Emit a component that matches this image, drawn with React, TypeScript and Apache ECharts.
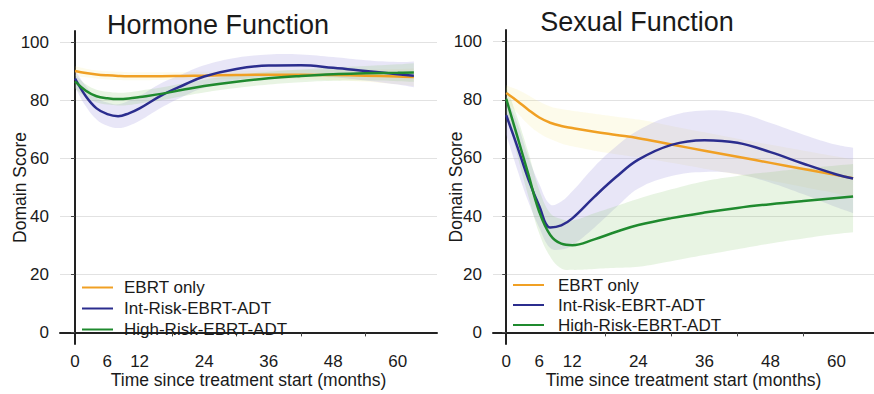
import React, { useEffect, useRef } from "react";
import * as echarts from "echarts";

// ---- data ----
const MONTHS = [0, 2, 4, 6, 8, 10, 12, 16, 20, 24, 30, 36, 42, 48, 54, 60, 63];
const SERIES_NAMES = ["EBRT only", "Int-Risk-EBRT-ADT", "High-Risk-EBRT-ADT"];
const X_LABELS = [0, 6, 12, 24, 36, 48, 60];
const X_TICKS = [18, 30, 42, 54];
const Y_LABELS = [0, 20, 40, 60, 80, 100];

// Hormone Function
const H_EBRT = [90.2, 89.5, 89.0, 88.7, 88.5, 88.4, 88.4, 88.4, 88.5, 88.6, 88.8, 88.9, 88.9, 88.8, 88.6, 88.3, 88.1];
const H_EBRT_LO = [88.5, 88.0, 87.6, 87.3, 87.1, 87.0, 87.0, 87.1, 87.2, 87.3, 87.4, 87.4, 87.3, 87.0, 86.5, 85.6, 85.0];
const H_EBRT_HI = [91.8, 91.0, 90.4, 90.1, 89.9, 89.8, 89.8, 89.8, 89.8, 89.9, 90.2, 90.4, 90.5, 90.6, 90.7, 90.9, 91.1];
const H_INT = [87.6, 81.5, 77.3, 75.3, 74.6, 75.6, 77.3, 81.7, 85.2, 88.3, 90.9, 92.1, 92.2, 91.3, 90.2, 89.1, 88.6];
const H_INT_LO = [84.5, 78.0, 73.5, 71.3, 70.5, 71.3, 73.0, 77.5, 81.3, 84.4, 87.0, 88.3, 88.6, 88.0, 86.9, 85.5, 84.6];
const H_INT_HI = [90.5, 85.0, 81.0, 79.3, 78.7, 79.9, 81.6, 86.0, 89.2, 92.2, 94.8, 95.9, 95.9, 95.0, 93.9, 93.3, 93.5];
const H_HIGH = [86.6, 83.4, 81.5, 80.8, 80.5, 80.7, 81.2, 82.3, 83.7, 85.0, 86.5, 87.7, 88.5, 89.1, 89.4, 89.6, 89.7];
const H_HIGH_LO = [84.2, 81.2, 79.3, 78.6, 78.3, 78.5, 79.0, 80.1, 81.5, 82.8, 84.3, 85.5, 86.3, 86.8, 86.9, 86.7, 86.5];
const H_HIGH_HI = [89.0, 85.6, 83.7, 83.0, 82.7, 82.9, 83.4, 84.5, 85.9, 87.2, 88.7, 89.9, 90.7, 91.4, 91.9, 92.5, 92.9];

// Sexual Function
const S_EBRT = [82.3, 79.6, 76.6, 73.9, 72.1, 71.0, 70.3, 69.0, 67.9, 66.8, 64.6, 62.5, 60.4, 58.3, 56.2, 54.1, 53.0];
const S_EBRT_LO = [79.5, 75.5, 71.5, 68.5, 66.5, 65.0, 64.0, 62.5, 61.3, 60.2, 58.3, 56.3, 54.3, 52.2, 50.0, 47.8, 46.5];
const S_EBRT_HI = [85.0, 83.5, 81.6, 79.4, 77.7, 76.8, 76.2, 75.2, 74.2, 73.2, 71.0, 68.8, 66.6, 64.5, 62.5, 60.5, 59.5];
const S_INT = [74.7, 64.0, 52.8, 43.5, 36.1, 36.8, 39.2, 46.6, 53.5, 59.4, 64.5, 66.1, 65.2, 62.0, 58.0, 54.3, 52.9];
const S_INT_LO = [68.0, 56.0, 45.0, 36.0, 29.0, 28.5, 30.0, 36.0, 43.0, 49.5, 53.8, 55.2, 54.5, 51.5, 47.5, 43.0, 41.0];
const S_INT_HI = [81.0, 72.0, 60.5, 51.0, 44.0, 45.0, 48.5, 57.0, 64.0, 69.5, 74.5, 76.3, 75.5, 72.0, 68.0, 64.5, 63.5];
const S_HIGH = [80.3, 67.5, 54.5, 41.5, 33.5, 30.5, 30.0, 32.0, 34.6, 36.9, 39.3, 41.2, 42.8, 44.1, 45.2, 46.2, 46.7];
const S_HIGH_LO = [76.0, 61.0, 47.0, 34.0, 26.0, 22.0, 21.5, 21.8, 22.2, 22.6, 24.5, 26.6, 28.6, 30.6, 32.3, 33.8, 34.4];
const S_HIGH_HI = [84.5, 74.0, 62.0, 49.0, 41.0, 39.0, 38.5, 41.0, 43.5, 46.0, 49.2, 52.0, 53.8, 55.2, 56.4, 57.4, 57.9];

// ---- styles ----
const FONT = "'Liberation Sans', Arial, Helvetica, sans-serif";
const TEXT = "#1a1a1a";
const LINE_COLORS = ["#F0A024", "#2B2D8E", "#1F8A2E"];
const BAND_COLORS = [
  "rgba(240, 232, 130, 0.16)",
  "rgba(160, 150, 220, 0.24)",
  "rgba(140, 200, 115, 0.2)",
];

const pairs = (vals: number[]) => vals.map((v, i) => [MONTHS[i], v]);

function bandSeries(idx: number, lo: number[], hi: number[], axis: number) {
  const rows = MONTHS.map((m, i) => [m, lo[i], hi[i]]);
  return {
    type: "custom",
    name: `${SERIES_NAMES[idx]} band`,
    xAxisIndex: axis,
    yAxisIndex: axis,
    data: rows,
    encode: { x: 0, y: [1, 2] },
    silent: true,
    z: 1,
    renderItem: (params: any, api: any) => {
      if (params.dataIndex !== 0) return null;
      const top = rows.map((r) => api.coord([r[0], r[2]]));
      const bottom = rows.map((r) => api.coord([r[0], r[1]])).reverse();
      const pts = [top[0], ...top, top[top.length - 1], bottom[0], ...bottom, bottom[bottom.length - 1]];
      return {
        type: "polygon",
        shape: { points: pts, smooth: 0.4 },
        style: { fill: BAND_COLORS[idx] },
      };
    },
  };
}

function lineSeries(idx: number, vals: number[], axis: number) {
  return {
    type: "line",
    name: SERIES_NAMES[idx],
    xAxisIndex: axis,
    yAxisIndex: axis,
    data: pairs(vals),
    smooth: 0.4,
    symbol: "none",
    color: LINE_COLORS[idx],
    lineStyle: { width: 2.5, color: LINE_COLORS[idx] },
    z: 3,
  };
}

function xAxis(gridIndex: number, min: number, max: number) {
  return {
    type: "value",
    gridIndex,
    min,
    max,
    axisLine: { show: true, lineStyle: { color: "#222", width: 2 } },
    axisTick: { show: true, customValues: X_TICKS, length: 4, lineStyle: { color: "#444", width: 1 } },
    axisLabel: { customValues: X_LABELS, margin: 9, fontSize: 17, color: TEXT, fontFamily: FONT },
    splitLine: { show: false },
    name: "Time since treatment start (months)",
    nameLocation: "middle",
    nameGap: 27,
    nameMoveOverlap: false,
    nameTextStyle: { fontSize: 17.5, color: TEXT, fontFamily: FONT },
  };
}

function yAxis(gridIndex: number, nameGap: number) {
  return {
    type: "value",
    gridIndex,
    min: -4,
    max: 104,
    axisLine: { show: true, lineStyle: { color: "#222", width: 2 } },
    axisTick: { show: true, customValues: Y_LABELS, length: 4, lineStyle: { color: "#444", width: 1 } },
    axisLabel: { customValues: Y_LABELS, margin: 11, fontSize: 17, color: TEXT, fontFamily: FONT },
    splitLine: { show: true, lineStyle: { color: "#e2e2e2", width: 1 } },
    name: "Domain Score",
    nameLocation: "middle",
    nameGap,
    nameMoveOverlap: false,
    nameTextStyle: { fontSize: 17.5, color: TEXT, fontFamily: FONT },
  };
}

function legend(left: number, top: number, lineHeight: number, pad: number) {
  return {
    orient: "vertical",
    left,
    top,
    itemWidth: 31,
    itemHeight: 2,
    itemGap: 0,
    icon: "rect",
    data: SERIES_NAMES,
    selectedMode: false,
    textStyle: { fontSize: 17, color: TEXT, fontFamily: FONT, lineHeight, padding: [0, 0, 0, pad] },
  };
}

export default function App() {
  const ref = useRef<HTMLDivElement>(null);
  useEffect(() => {
    if (!ref.current) return;
    const chart = echarts.init(ref.current, null, { renderer: "svg" });
    const option = {
      animation: false,
      backgroundColor: "#ffffff",
      grid: [
        { left: 60, top: 31, width: 377, height: 317 },
        { left: 493, top: 30, width: 381, height: 318 },
      ],
      xAxis: [xAxis(0, -2.8, 67.3), xAxis(1, -2.4, 66.8)],
      yAxis: [yAxis(0, 31), yAxis(1, 28)],
      legend: [legend(77, 272, 21, 6), legend(508, 270, 20, 9)],
      graphic: [
        {
          type: "text",
          x: 218,
          y: 25,
          style: { text: "Hormone Function", font: `27px ${FONT}`, fill: TEXT, align: "center", verticalAlign: "middle" },
        },
        {
          type: "text",
          x: 637,
          y: 22,
          style: { text: "Sexual Function", font: `27px ${FONT}`, fill: TEXT, align: "center", verticalAlign: "middle" },
        },
      ],
      series: [
        bandSeries(0, H_EBRT_LO, H_EBRT_HI, 0),
        bandSeries(1, H_INT_LO, H_INT_HI, 0),
        bandSeries(2, H_HIGH_LO, H_HIGH_HI, 0),
        lineSeries(0, H_EBRT, 0),
        lineSeries(1, H_INT, 0),
        lineSeries(2, H_HIGH, 0),
        bandSeries(0, S_EBRT_LO, S_EBRT_HI, 1),
        bandSeries(1, S_INT_LO, S_INT_HI, 1),
        bandSeries(2, S_HIGH_LO, S_HIGH_HI, 1),
        lineSeries(0, S_EBRT, 1),
        lineSeries(1, S_INT, 1),
        lineSeries(2, S_HIGH, 1),
      ],
    };
    chart.setOption(option as any);
    return () => chart.dispose();
  }, []);
  return (
    <div
      ref={ref}
      style={{ position: "fixed", left: 0, top: 0, width: 874, height: 394, background: "#fff" }}
    />
  );
}
